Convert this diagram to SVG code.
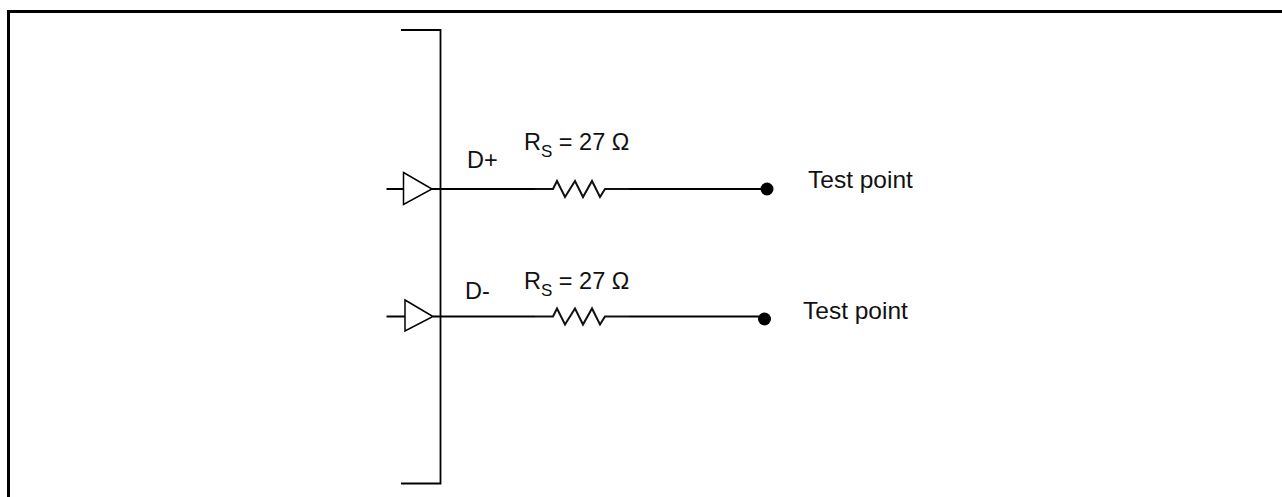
<svg xmlns="http://www.w3.org/2000/svg" width="1282" height="497" viewBox="0 0 1282 497">
<style>
.w{fill:none;stroke:#000;stroke-width:1.800}
.d{fill:none;stroke:#000;stroke-width:1.500}
.z{fill:none;stroke:#111;stroke-width:2}
.f{fill:none;stroke:#000;stroke-width:3}
.t{font-family:"Liberation Sans",Arial,sans-serif;font-size:23.500px;fill:#111}
.p{font-size:24.500px}
.s{font-size:17px}
</style>
<rect width="1282" height="497" fill="#fff"/>
<g id="frame"><path class="f" d="M8.500 497V11.500H1282"/></g>
<g id="connectors">
<path class="w" d="M401 30H440.500V483.500H401"/>
<path class="w" d="M386.500 189H403.500M432 189H535M629 189H767"/>
<path class="w" d="M386.500 316.500H405M433 316.500H535M629 316.500H765"/>
<path class="z" d="M535 189H553L557 181L565 197L575 181L583 197L592 181L600 197L605 189H629"/>
<path class="z" d="M535 316.500H553L557 308.500L565 324.500L575 308.500L583 324.500L592 308.500L600 324.500L605 316.500H629"/>
</g>
<g id="driver-plus"><path class="d" d="M403.500 172.500L432 189L403.500 204.500Z"/></g>
<g id="driver-minus"><path class="d" d="M405 300L433 316.500L405 331Z"/></g>
<g id="tp-plus"><circle cx="767" cy="189" r="6.500"/><text class="t p" x="808" y="187.500">Test point</text></g>
<g id="tp-minus"><circle cx="764.500" cy="319" r="6.500"/><text class="t p" x="803" y="318.500">Test point</text></g>
<g id="label-dplus"><text class="t" x="467" y="168">D+</text></g>
<g id="label-dminus"><text class="t" x="465" y="299">D-</text></g>
<g id="rs-plus"><text class="t" x="524" y="150">R<tspan class="s" dy="7">S</tspan><tspan dy="-7"> = 27 Ω</tspan></text></g>
<g id="rs-minus"><text class="t" x="524" y="289">R<tspan class="s" dy="7">S</tspan><tspan dy="-7"> = 27 Ω</tspan></text></g>
</svg>
